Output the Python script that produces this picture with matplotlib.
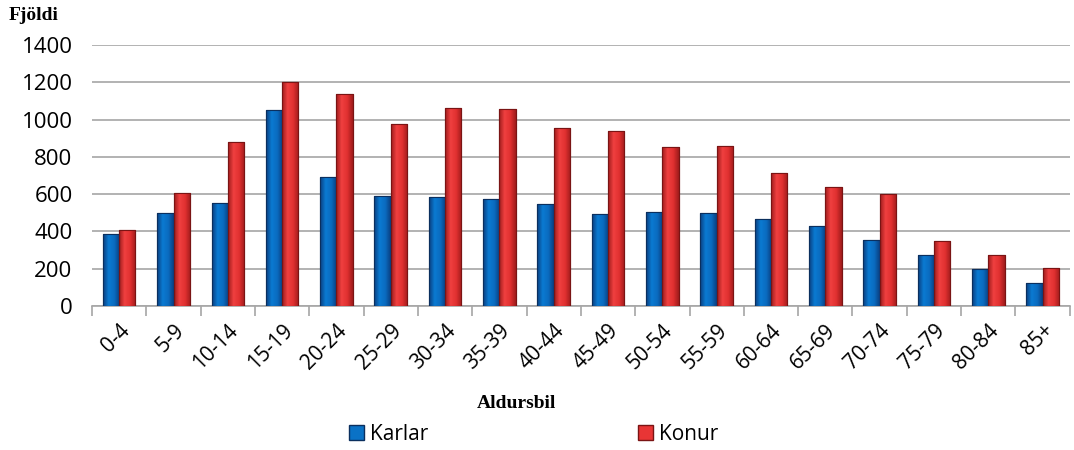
import numpy as np
import matplotlib.pyplot as plt
from matplotlib.patches import Patch
from matplotlib.colors import LinearSegmentedColormap

# age groups and counts
age_groups = ['0-4', '5-9', '10-14', '15-19', '20-24', '25-29', '30-34', '35-39', '40-44',
              '45-49', '50-54', '55-59', '60-64', '65-69', '70-74', '75-79', '80-84', '85+']
karlar = [385, 500, 555, 1050, 690, 590, 586, 575, 549, 495, 506, 501, 469, 429, 356, 274, 196, 121]
konur = [405, 605, 880, 1200, 1135, 975, 1062, 1058, 955, 940, 853, 860, 711, 640, 602, 351, 271, 203]

blue = '#0a72c6'
blue_edge = '#0b2f5e'
red = '#e83535'
red_edge = '#7a1414'

blue_cmap = LinearSegmentedColormap.from_list('b', ['#0a3f80', '#0b7ad2', '#0a6cc0', '#0a3f80'])
red_cmap = LinearSegmentedColormap.from_list('r', ['#a01c1c', '#f04040', '#e03030', '#a01c1c'])
grad = np.linspace(0, 1, 64).reshape(1, -1)


def shade(bars, cmap):
    # horizontal gradient inside each bar, like the glossy office style
    for b in bars:
        x0, y0 = b.get_x(), b.get_y()
        im = ax.imshow(grad, cmap=cmap, aspect='auto', zorder=3.5,
                       extent=[x0, x0 + b.get_width(), y0, y0 + b.get_height()])
        im.set_clip_path(b)


fig = plt.figure(figsize=(10.74, 4.5), dpi=100)
ax = fig.add_axes([0.0857, 0.32, 0.9103, 0.58])

x = np.arange(len(age_groups))
w = 0.3
b1 = ax.bar(x - w / 2, karlar, width=w, color=blue, edgecolor=blue_edge, linewidth=0.8, zorder=3)
b2 = ax.bar(x + w / 2, konur, width=w, color=red, edgecolor=red_edge, linewidth=0.8, zorder=3)
shade(b1, blue_cmap)
shade(b2, red_cmap)
for b, ec in [(bb, blue_edge) for bb in b1] + [(bb, red_edge) for bb in b2]:
    ax.bar(b.get_x() + b.get_width() / 2, b.get_height(), width=b.get_width(),
           facecolor='none', edgecolor=ec, linewidth=0.8, zorder=4)

ax.set_xlim(-0.5, len(age_groups) - 0.5)
ax.set_ylim(0, 1400)
ax.set_yticks(range(0, 1401, 200))
ax.yaxis.grid(True, color='#a6a6a6', linewidth=1.2, zorder=0)
ax.set_axisbelow(True)

for s in ['top', 'right', 'left']:
    ax.spines[s].set_visible(False)
ax.spines['bottom'].set_color('#a6a6a6')
ax.spines['bottom'].set_linewidth(1.2)

ax.tick_params(axis='y', length=0, labelsize=16, pad=14)
ax.set_xticks(np.arange(-0.5, len(age_groups), 1.0))
ax.set_xticklabels([])
ax.tick_params(axis='x', which='major', length=7, color='#a6a6a6', width=1.2)
ax.set_xticks(x, minor=True)
ax.set_xticklabels(age_groups, minor=True, rotation=45, ha='right', rotation_mode='anchor', fontsize=15)
ax.tick_params(axis='x', which='minor', length=0, pad=10)
for lbl in ax.get_yticklabels() + ax.get_xticklabels(minor=True):
    lbl.set_fontfamily('Open Sans')

fig.text(0.008, 0.965, 'Fjöldi', fontfamily='Liberation Serif', fontweight='bold', fontsize=14, va='center')
fig.text(0.481, 0.103, 'Aldursbil', fontfamily='Liberation Serif', fontweight='bold', fontsize=14, ha='center', va='center')

handles = [Patch(facecolor=blue, edgecolor=blue_edge, label='Karlar'),
           Patch(facecolor=red, edgecolor=red_edge, label='Konur')]
fig.legend(handles=handles, loc='center', bbox_to_anchor=(0.497, 0.035), ncol=2, frameon=False,
           prop={'family': 'Open Sans', 'size': 15}, handlelength=0.7, handleheight=0.7,
           handletextpad=0.3, columnspacing=10.1)

fig.savefig('out.png', dpi=100)
